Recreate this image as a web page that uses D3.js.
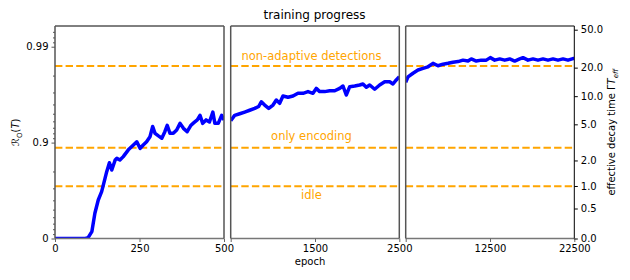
<!DOCTYPE html>
<html>
<head>
<meta charset="utf-8">
<script src="https://cdn.jsdelivr.net/npm/d3@7"></script>
<style>
  body { margin: 0; background: #fff; }
  text { font-family: "DejaVu Sans", sans-serif; }
</style>
</head>
<body>
<div id="chart"></div>
<script>
// --- data ---
var epochsEarly = [0, 90, 98, 109, 118, 128, 138, 148, 153, 161, 168, 178, 183, 192, 202, 217, 232, 242, 252, 261, 271, 281, 289, 296, 306, 316, 325, 332, 340, 350, 360, 370, 380, 391, 402, 411, 421, 429, 437, 447, 457, 467, 473, 483, 493, 500];
var recallEarly = [0, 0, 0.019, 0.151, 0.454, 0.603, 0.675, 0.764, 0.799, 0.838, 0.807, 0.848, 0.854, 0.848, 0.860, 0.881, 0.894, 0.902, 0.885, 0.894, 0.902, 0.913, 0.932, 0.920, 0.915, 0.910, 0.923, 0.934, 0.920, 0.920, 0.926, 0.937, 0.929, 0.923, 0.934, 0.938, 0.942, 0.948, 0.937, 0.942, 0.939, 0.952, 0.937, 0.937, 0.948, 0.942];

var epochsMid = [500, 547, 607, 666, 725, 785, 832, 863, 903, 951, 1002, 1041, 1081, 1120, 1180, 1239, 1298, 1358, 1417, 1476, 1515, 1556, 1615, 1674, 1734, 1793, 1832, 1871, 1912, 1971, 2030, 2069, 2109, 2149, 2208, 2267, 2327, 2386, 2425, 2464, 2500];
var recallMid = [0.941, 0.948, 0.950, 0.952, 0.954, 0.956, 0.958, 0.9625, 0.9594, 0.956, 0.9594, 0.964, 0.9611, 0.9673, 0.9663, 0.9673, 0.9694, 0.9694, 0.9706, 0.9694, 0.9728, 0.9706, 0.9706, 0.9712, 0.9712, 0.9728, 0.9743, 0.9681, 0.9739, 0.9743, 0.9749, 0.9755, 0.9735, 0.9749, 0.9722, 0.9749, 0.9768, 0.9768, 0.9755, 0.9778, 0.9794];

var epochsLate = [2500, 2773, 3366, 3959, 4552, 5145, 5738, 6331, 6925, 7518, 8111, 8704, 9297, 9890, 10281, 10875, 11468, 12061, 12535, 13057, 13650, 14243, 14836, 15430, 16023, 16414, 17007, 17600, 18193, 18786, 19380, 19973, 20566, 21159, 21752, 22345, 22500];
var recallLate = [0.9765, 0.9794, 0.9811, 0.9825, 0.9832, 0.9838, 0.9851, 0.9842, 0.9848, 0.9851, 0.9855, 0.9857, 0.9862, 0.9859, 0.9866, 0.9859, 0.9862, 0.9862, 0.9870, 0.9862, 0.9866, 0.9862, 0.9866, 0.9859, 0.9866, 0.9870, 0.9862, 0.9866, 0.9862, 0.9866, 0.9862, 0.9866, 0.9862, 0.9866, 0.9862, 0.9867, 0.9867];

// reference levels (in recall units)
var levelNames = ["idle", "only encoding", "non-adaptive detections"];
var levelRecall = [0.714, 0.887, 0.9841];

// axis ticks
var recallMajor = [0, 0.9, 0.99];
var recallMajorLabels = ["0", "0.9", "0.99"];
var recallMinor = [0.1, 0.2, 0.3, 0.4, 0.5, 0.6, 0.7, 0.8, 0.91, 0.92, 0.93, 0.94, 0.95, 0.96, 0.97, 0.98, 0.991, 0.992, 0.993];
var decayTicks = [0, 0.5, 1, 2, 5, 10, 20, 50];

var panelDomains = [[0, 500], [500, 2500], [2500, 22500]];
var panelTicks = [[0, 250, 500], [500, 1500, 2500], [2500, 12500, 22500]];
var panelLabels = [["0", "250", "500"], ["", "1500", "2500"], ["", "12500", "22500"]];

// --- layout ---
var width = 630, height = 280;
var plotTop = 26, plotBottom = 238.5;
var panelX = [[55, 224], [230.7, 399.3], [405.7, 574.3]];

var svg = d3.select("#chart").append("svg")
    .attr("width", width)
    .attr("height", height);

// the y axis is linear in -log10(1 - R)
function toU(r) { return -Math.log10(1 - r); }
function decayToRecall(t) { return t === 0 ? 0 : Math.exp(-1 / (3 * t)); }

var yU = d3.scaleLinear().domain([0, 2.216]).range([plotBottom, plotTop]);
function yR(r) { return yU(toU(r)); }

var series = [
    epochsEarly.map(function(e, i) { return { e: e, r: recallEarly[i] }; }),
    epochsMid.map(function(e, i) { return { e: e, r: recallMid[i] }; }),
    epochsLate.map(function(e, i) { return { e: e, r: recallLate[i] }; })
];

var defs = svg.append("defs");

panelDomains.forEach(function(dom, p) {
    var x = d3.scaleLinear().domain(dom).range(panelX[p]);
    var g = svg.append("g");

    defs.append("clipPath").attr("id", "clip" + p)
        .append("rect")
        .attr("x", panelX[p][0]).attr("y", plotTop)
        .attr("width", panelX[p][1] - panelX[p][0])
        .attr("height", plotBottom - plotTop);

    // dashed reference lines
    g.selectAll("line.level")
        .data(levelRecall)
        .enter().append("line")
        .attr("class", "level")
        .attr("x1", panelX[p][0]).attr("x2", panelX[p][1])
        .attr("y1", function(d) { return yR(d); })
        .attr("y2", function(d) { return yR(d); })
        .attr("stroke", "#ffa500")
        .attr("stroke-width", 2)
        .attr("stroke-dasharray", "7.4,3.2");

    // training curve
    var line = d3.line()
        .x(function(d) { return x(d.e); })
        .y(function(d) { return yR(d.r); });

    g.append("path")
        .datum(series[p])
        .attr("clip-path", "url(#clip" + p + ")")
        .attr("d", line)
        .attr("fill", "none")
        .attr("stroke", "#0000ff")
        .attr("stroke-width", 3.5)
        .attr("stroke-linejoin", "round");

    // x axis
    var xAxis = d3.axisBottom(x)
        .tickValues(panelTicks[p])
        .tickSize(3.5)
        .tickPadding(3)
        .tickFormat(function(d, i) { return panelLabels[p][i]; });

    var ax = svg.append("g")
        .attr("transform", "translate(0," + plotBottom + ")")
        .call(xAxis);
    ax.select(".domain").remove();
    ax.selectAll("line").attr("stroke", "#666");
    ax.selectAll("text").attr("font-size", 10).attr("fill", "#000");

    // spines
    g.append("line")
        .attr("x1", panelX[p][0]).attr("x2", panelX[p][1])
        .attr("y1", plotTop).attr("y2", plotTop)
        .attr("stroke", "#000").attr("stroke-width", 1);
    g.append("line")
        .attr("x1", panelX[p][0]).attr("x2", panelX[p][1])
        .attr("y1", plotBottom).attr("y2", plotBottom)
        .attr("stroke", "#777").attr("stroke-width", 1.6);
    g.append("line")
        .attr("x1", panelX[p][0]).attr("x2", panelX[p][0])
        .attr("y1", plotTop).attr("y2", plotBottom)
        .attr("stroke", "#555").attr("stroke-width", 1.5);
    g.append("line")
        .attr("x1", panelX[p][1]).attr("x2", panelX[p][1])
        .attr("y1", plotTop).attr("y2", plotBottom)
        .attr("stroke", p === 2 ? "#000" : "#555")
        .attr("stroke-width", p === 2 ? 1 : 1.5);
});

// left axis (recall)
var leftMinor = svg.append("g")
    .attr("transform", "translate(" + panelX[0][0] + ",0)")
    .call(d3.axisLeft(yU).tickValues(recallMinor.map(toU)).tickSize(2).tickFormat(""));
leftMinor.select(".domain").remove();
leftMinor.selectAll("line").attr("stroke", "#555");

var leftMajor = svg.append("g")
    .attr("transform", "translate(" + panelX[0][0] + ",0)")
    .call(d3.axisLeft(yU).tickValues(recallMajor.map(toU)).tickSize(3.5).tickPadding(3)
        .tickFormat(function(d, i) { return recallMajorLabels[i]; }));
leftMajor.select(".domain").remove();
leftMajor.selectAll("line").attr("stroke", "#555");
leftMajor.selectAll("text").attr("font-size", 10).attr("fill", "#000");

// right axis (effective decay time)
var rightAxis = svg.append("g")
    .attr("transform", "translate(" + panelX[2][1] + ",0)")
    .call(d3.axisRight(yU)
        .tickValues(decayTicks.map(function(t) { return toU(decayToRecall(t)); }))
        .tickSize(3.5).tickPadding(3)
        .tickFormat(function(d, i) { return decayTicks[i].toFixed(1); }));
rightAxis.select(".domain").remove();
rightAxis.selectAll("line").attr("stroke", "#000");
rightAxis.selectAll("text").attr("font-size", 10).attr("fill", "#000");

// level labels
var labelX = 311.5;
var labelBaseline = [199, 140, 60];
svg.selectAll("text.levelLabel")
    .data(levelNames)
    .enter().append("text")
    .attr("class", "levelLabel")
    .attr("x", labelX)
    .attr("y", function(d, i) { return labelBaseline[i]; })
    .attr("text-anchor", "middle")
    .attr("font-size", 11.5)
    .attr("fill", "#ffa500")
    .text(function(d) { return d; });

// title and axis labels
svg.append("text")
    .attr("x", 314.5).attr("y", 19)
    .attr("text-anchor", "middle")
    .attr("font-size", 12)
    .text("training progress");

svg.append("text")
    .attr("x", 310).attr("y", 265)
    .attr("text-anchor", "middle")
    .attr("font-size", 10)
    .text("epoch");

var yl = svg.append("text")
    .attr("transform", "translate(19," + ((plotTop + plotBottom) / 2) + ") rotate(-90)")
    .attr("text-anchor", "middle")
    .attr("font-size", 10);
yl.append("tspan").attr("font-style", "italic").text("ℛ");
yl.append("tspan").attr("font-size", 7).attr("dy", 2.5).text("O");
yl.append("tspan").attr("dy", -2.5).text("(");
yl.append("tspan").attr("font-style", "italic").text("T");
yl.append("tspan").text(")");

var yr = svg.append("text")
    .attr("transform", "translate(615," + ((plotTop + plotBottom) / 2) + ") rotate(-90)")
    .attr("text-anchor", "middle")
    .attr("font-size", 10);
yr.append("tspan").text("effective decay time Γ");
yr.append("tspan").attr("font-style", "italic").text("T");
yr.append("tspan").attr("font-size", 7).attr("dy", 2.5).attr("font-style", "italic").text("eff");
</script>
</body>
</html>
